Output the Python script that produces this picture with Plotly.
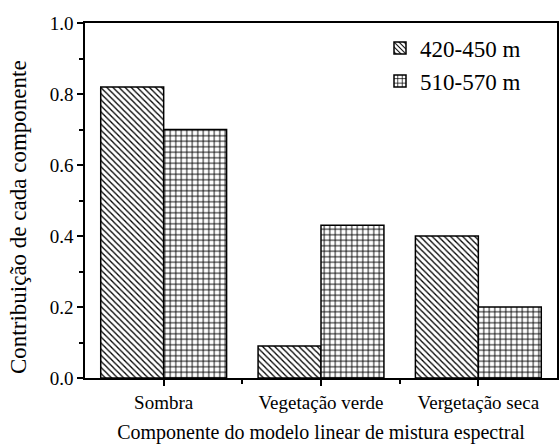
import plotly.graph_objects as go

categories = ["Sombra", "Vegetação verde", "Vergetação seca"]
series_names = ["420-450 m", "510-570 m"]
values_420_450 = [0.82, 0.09, 0.40]
values_510_570 = [0.70, 0.43, 0.20]
y_ticks = [0.0, 0.2, 0.4, 0.6, 0.8, 1.0]
y_tick_labels = ["0.0", "0.2", "0.4", "0.6", "0.8", "1.0"]
x_title = "Componente do modelo linear de mistura espectral"
y_title = "Contribuição de cada componente"

FONT = "Times New Roman, Liberation Serif, Tinos, DejaVu Serif"

fig = go.Figure()
fig.add_trace(go.Bar(
    x=categories, y=values_420_450, name=series_names[0],
    marker=dict(color="white", line=dict(color="black", width=1.5),
                pattern=dict(shape="\\", fgcolor="black", bgcolor="white",
                             size=4.3, solidity=0.3, fillmode="replace")),
))
fig.add_trace(go.Bar(
    x=categories, y=values_510_570, name=series_names[1],
    marker=dict(color="white", line=dict(color="black", width=1.5),
                pattern=dict(shape="+", fgcolor="black", bgcolor="white",
                             size=5.5, solidity=0.3, fillmode="replace")),
))

fig.update_layout(
    width=559, height=447, autosize=False,
    margin=dict(l=85, r=2, t=23, b=69, autoexpand=False),
    paper_bgcolor="white", plot_bgcolor="white",
    barmode="group", bargap=0.2, bargroupgap=0,
    font=dict(family=FONT, color="black", size=19),
    showlegend=True,
    legend=dict(x=0.625, y=0.99, xanchor="left", yanchor="top",
                font=dict(family=FONT, size=23, color="black"),
                bgcolor="rgba(0,0,0,0)", tracegroupgap=0, itemwidth=30),
    xaxis=dict(
        range=[-0.5, 2.5], showline=True, linecolor="black", linewidth=1.5,
        mirror=True, ticks="outside", ticklen=6, tickwidth=1.5, tickcolor="black",
        tickfont=dict(family=FONT, size=19), automargin=False,
        minor=dict(ticks="outside", ticklen=4, tickwidth=1.5, tickcolor="black",
                   tickmode="array", tickvals=[0.5, 1.5]),
        showgrid=False, zeroline=False,
        title=dict(text=x_title, font=dict(family=FONT, size=20), standoff=13),
    ),
    yaxis=dict(
        range=[0, 1.0], showline=True, linecolor="black", linewidth=1.5,
        mirror=True, ticks="outside", ticklen=6, tickwidth=1.5, tickcolor="black",
        tickmode="array", tickvals=y_ticks, ticktext=y_tick_labels,
        tickfont=dict(family=FONT, size=19), automargin=False,
        minor=dict(ticks="outside", ticklen=4, tickwidth=1.5, tickcolor="black",
                   dtick=0.1, showgrid=False),
        showgrid=False, zeroline=False,
    ),
    annotations=[dict(
        text=y_title, textangle=-90, xref="paper", yref="paper",
        x=-0.142, y=0.4535, xanchor="center", yanchor="middle",
        showarrow=False, font=dict(family=FONT, size=23, color="black"),
    )],
)

fig.write_html(
    "out.html",
    config={"responsive": False, "displayModeBar": False},
    post_script="document.body.style.margin='0';document.body.style.padding='0';",
)
